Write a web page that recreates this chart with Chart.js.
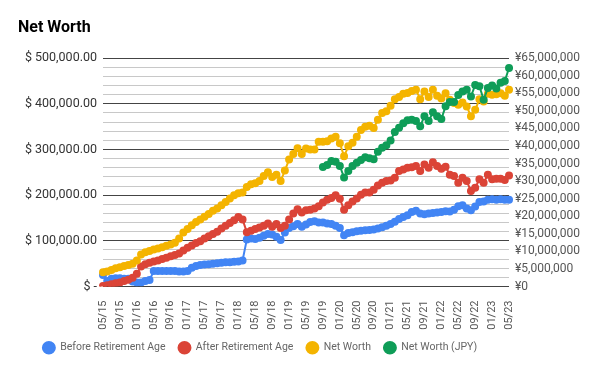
<!DOCTYPE html>
<html>
<head>
<meta charset="utf-8">
<script src="https://cdn.jsdelivr.net/npm/chart.js@4"></script>
<style>
  html, body { margin: 0; background: #fff; }
</style>
</head>
<body>
<canvas id="chart" width="600" height="371"></canvas>
<script>
// month labels, 05/15 .. 05/23
const months = [
  '05/15','06/15','07/15','08/15','09/15','10/15','11/15','12/15',
  '01/16','02/16','03/16','04/16','05/16','06/16','07/16','08/16','09/16','10/16','11/16','12/16',
  '01/17','02/17','03/17','04/17','05/17','06/17','07/17','08/17','09/17','10/17','11/17','12/17',
  '01/18','02/18','03/18','04/18','05/18','06/18','07/18','08/18','09/18','10/18','11/18','12/18',
  '01/19','02/19','03/19','04/19','05/19','06/19','07/19','08/19','09/19','10/19','11/19','12/19',
  '01/20','02/20','03/20','04/20','05/20','06/20','07/20','08/20','09/20','10/20','11/20','12/20',
  '01/21','02/21','03/21','04/21','05/21','06/21','07/21','08/21','09/21','10/21','11/21','12/21',
  '01/22','02/22','03/22','04/22','05/22','06/22','07/22','08/22','09/22','10/22','11/22','12/22',
  '01/23','02/23','03/23','04/23','05/23'
];

// values in thousands of dollars
const beforeRetirement = [
  25,12,17,18,18,17,17,11,9,9,
  12,14,34,34,34,34,34,34,33,33,
  34,41,45,47,48,49,50,51,52,53,
  53,54,55,57,103,105,104,107,111,115,
  114,109,102,118,128,132,137,131,136,141,
  143,140,140,138,137,133,128,112,117,119,
  121,122,123,124,125,127,130,133,137,142,
  148,152,156,163,166,160,158,160,161,162,
  163,165,164,168,176,178,171,167,175,185,
  186,190,191,190,191,190,190
];
const afterRetirement = [
  1,3,5,7,9,12,15,19,28,44,
  49,52,55,57,60,63,66,69,72,79,
  85,90,95,99,105,110,115,120,127,133,
  139,145,152,147,119,122,126,129,133,138,
  131,137,128,133,147,160,169,162,167,168,
  171,176,184,190,194,200,192,168,178,186,
  193,201,206,206,212,221,227,231,232,238,
  253,256,260,261,264,253,267,260,272,264,
  258,262,245,242,227,238,231,209,216,235,
  227,245,235,236,236,233,243
];
const netWorth = [
  31,33,36,40,42,45,47,50,57,70,
  75,78,81,83,86,89,92,96,105,118,
  126,134,141,147,153,159,166,171,178,185,
  193,200,204,206,218,224,226,231,242,250,
  240,245,231,254,278,290,303,290,302,300,
  300,317,317,318,324,328,314,285,307,315,
  328,343,350,352,347,365,380,384,396,410,
  415,422,424,428,431,410,427,415,431,418,
  412,423,409,402,398,403,394,373,387,410,
  405,422,420,421,423,418,431
];
// millions of yen, starts 09/19
const netWorthJpy = Array(52).fill(null).concat([
  34.0,34.6,35.7,35.5,34.3,31.0,32.9,34.3,35.2,36.0,
  36.8,36.5,36.2,38.4,39.5,40.2,41.6,44.0,45.2,46.5,
  47.3,47.5,47.1,45.6,48.5,47.1,49.6,48.5,47.7,51.3,
  52.5,52.5,54.5,55.5,56.0,54.1,57.4,57.0,53.2,56.5,
  57.2,56.4,58.0,58.5,62.2
]);

const seriesNames = ['Before Retirement Age', 'After Retirement Age', 'Net Worth', 'Net Worth (JPY)'];
const seriesColors = ['#4285f4', '#db4437', '#f4b400', '#0f9d58'];

Chart.defaults.font.family = 'Roboto, sans-serif';

function makeSet(i, data, axis) {
  return {
    label: seriesNames[i], data: data, yAxisID: axis,
    borderColor: seriesColors[i], backgroundColor: seriesColors[i],
    borderWidth: 2, pointRadius: 3, pointHoverRadius: 3,
    tension: 0, order: 4 - i
  };
}

// the legend row sits a bit left of centre in the original
const legendShift = {
  id: 'legendShift',
  afterLayout(chart) {
    chart.legend.left -= 42;
    chart.legend.right -= 42;
  }
};

new Chart(document.getElementById('chart'), {
  type: 'line',
  data: {
    labels: months,
    datasets: [
      makeSet(0, beforeRetirement, 'y'),
      makeSet(1, afterRetirement, 'y'),
      makeSet(2, netWorth, 'y'),
      makeSet(3, netWorthJpy, 'yJpy')
    ]
  },
  plugins: [legendShift],
  options: {
    responsive: false,
    animation: false,
    layout: { padding: { left: 18, right: 14, top: 14, bottom: 8 } },
    plugins: {
      title: {
        display: true, text: 'Net Worth', align: 'start', color: '#000',
        font: { size: 16, weight: 'bold' }, padding: { top: 4, bottom: 21 }
      },
      legend: {
        position: 'bottom',
        labels: {
          usePointStyle: true, pointStyle: 'circle', pointStyleWidth: 12, boxHeight: 8,
          color: '#666', font: { size: 10.5 }, padding: 13,
          sort: (a, b) => a.datasetIndex - b.datasetIndex
        }
      },
      tooltip: { enabled: false }
    },
    scales: {
      x: {
        grid: { display: false },
        border: { display: false },
        afterFit: s => { s.height = 43; },
        ticks: {
          autoSkip: false, minRotation: 90, maxRotation: 90,
          color: '#555', font: { size: 11 }, padding: 6,
          callback: (v, i) => i % 4 === 0 ? months[i] : ''
        }
      },
      y: {
        position: 'left', min: 0, max: 500,
        border: { display: false },
        afterFit: s => { s.width = 85; },
        grid: {
          drawTicks: false,
          color: ctx => ctx.tick && ctx.tick.value % 100 === 0 ? '#444' : '#c8c8c8'
        },
        ticks: {
          stepSize: 20, autoSkip: false, color: '#333', font: { size: 12.5 }, padding: 6,
          callback: v => v % 100 !== 0 ? '' :
            (v === 0 ? '$ -' : '$ ' + (v * 1000).toLocaleString('en-US', { minimumFractionDigits: 2 }))
        }
      },
      yJpy: {
        position: 'right', min: 0, max: 65,
        border: { display: false },
        grid: { drawOnChartArea: false, drawTicks: false },
        ticks: {
          stepSize: 5, autoSkip: false, color: '#555', font: { size: 12 }, padding: 6,
          callback: v => '¥' + (v * 1000000).toLocaleString('en-US')
        }
      }
    }
  }
});
</script>
</body>
</html>
